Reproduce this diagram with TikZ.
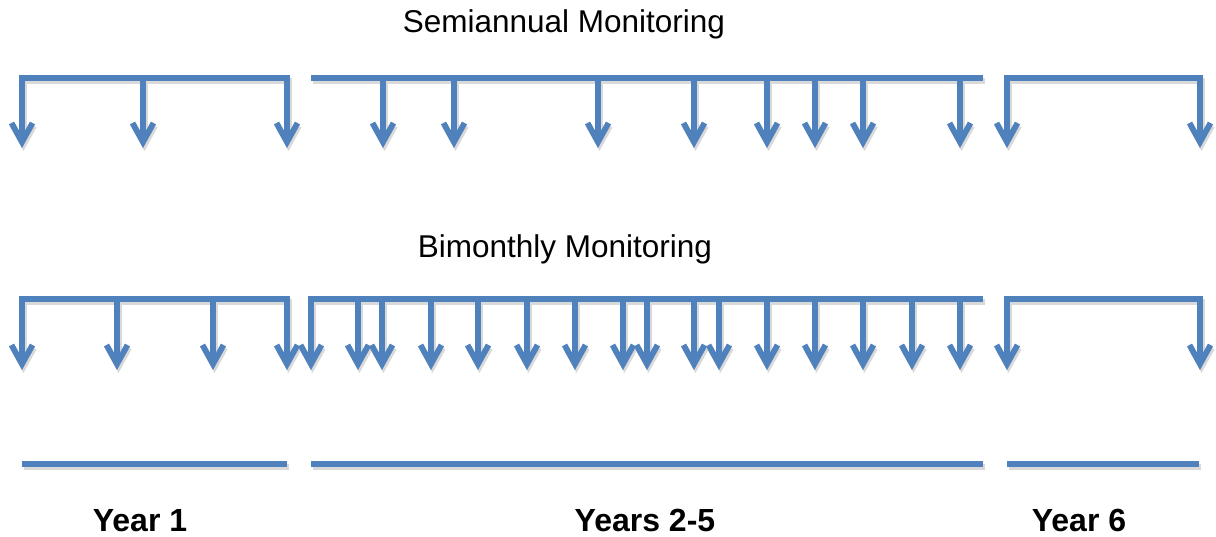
\documentclass[tikz,border=0pt]{standalone}
\usepackage{fontspec}
\setmainfont{Liberation Sans}
\usetikzlibrary{arrows.meta}
\definecolor{barblue}{HTML}{4F81BD}
\tikzset{
  tipshape/.tip={Straight Barb[length=19pt,width=21pt,line width=5.8pt]},
  ln/.style={draw=barblue, line width=5.8pt, line join=miter},
  arr/.style={ln, -tipshape},
  twoarr/.style={ln, tipshape-tipshape},
  startarr/.style={ln, tipshape-},
  title/.style={font=\fontsize{31.5pt}{36pt}\selectfont, anchor=base, inner sep=0pt},
  yearlabel/.style={font=\fontsize{32pt}{36pt}\selectfont\bfseries, anchor=base, inner sep=0pt}
}
\newcommand\monitorpaths{%
  % Semiannual
  \path[twoarr] (22,148) -- (22,78) -- (287,78) -- (287,148);
  \foreach \x in {143} {\path[arr] (\x,78) -- (\x,148);}
  \path[ln] (311,78) -- (983,78);
  \foreach \x in {383,454,598,694,767,815,863,960} {\path[arr] (\x,78) -- (\x,148);}
  \path[twoarr] (1007,148) -- (1007,78) -- (1200,78) -- (1200,148);
  % Bimonthly
  \path[twoarr] (22,370) -- (22,299) -- (287,299) -- (287,370);
  \foreach \x in {117,213} {\path[arr] (\x,299) -- (\x,370);}
  \path[startarr] (311,370) -- (311,299) -- (983,299);
  \foreach \x in {358,382,431,478,527,575,623,647,694,719,767,815,863,912,960} {\path[arr] (\x,299) -- (\x,370);}
  \path[twoarr] (1007,370) -- (1007,299) -- (1200,299) -- (1200,370);
  % Year lines
  \path[ln] (22,464) -- (287,464);
  \path[ln] (311,464) -- (983,464);
  \path[ln] (1007,464) -- (1199,464);
}
\begin{document}
\begin{tikzpicture}[x=1pt,y=-1pt]
  \useasboundingbox (0,0) rectangle (1216,537);
  \begin{scope}[transform canvas={shift={(1.5pt,-3pt)}}, ln/.style={draw=black!15, line width=6.5pt, line join=miter}]
    \monitorpaths
  \end{scope}
  \monitorpaths
  \node[title] (semi) at (564,33) {Semiannual Monitoring};
  \node[title] (bim) at (565,258) {Bimonthly Monitoring};
  \node[yearlabel] (y1) at (140,531) {Year 1};
  \node[yearlabel] (y25) at (645,531) {Years 2-5};
  \node[yearlabel] (y6) at (1079,531) {Year 6};
\end{tikzpicture}
\end{document}
